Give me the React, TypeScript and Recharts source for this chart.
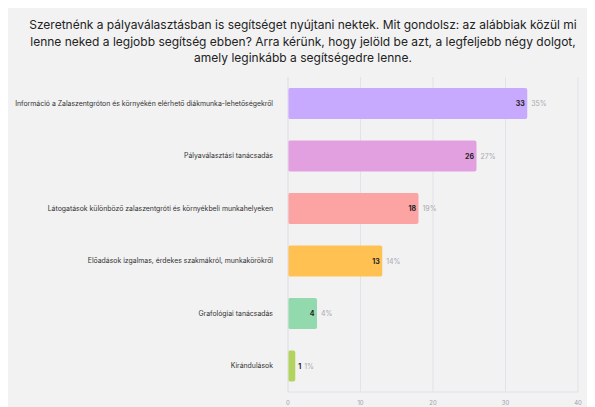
import { BarChart, Bar, XAxis, YAxis, CartesianGrid, Cell, LabelList } from 'recharts';

const categories = [
  'Információ a Zalaszentgróton és környékén elérhető diákmunka-lehetőségekről',
  'Pályaválasztási tanácsadás',
  'Látogatások különböző zalaszentgróti és környékbeli munkahelyeken',
  'Előadások izgalmas, érdekes szakmákról, munkakörökről',
  'Grafológiai tanácsadás',
  'Kirándulások',
];
const counts = [33, 26, 18, 13, 4, 1];
const percents = ['35%', '27%', '19%', '14%', '4%', '1%'];
const colors = ['#c7a9fd', '#e3a0e1', '#fca3a3', '#ffc152', '#93d9ae', '#b2d45f'];
const xTicks = [0, 10, 20, 30, 40];

const data = categories.map((name, i) => ({ name, value: counts[i], pct: percents[i] }));

const FONT = 'Inter, "Noto Sans", sans-serif';

function ValueLabel(props: any) {
  const { x, y, width, height, index } = props;
  const cy = y + height / 2;
  const end = x + width;
  const inside = width > 14;
  const valX = inside ? end - 2.5 : end + 3;
  const pctX = inside ? end + 4 : end + 9;
  return (
    <g style={{ fontFamily: FONT }}>
      <text x={valX} y={cy} textAnchor={inside ? 'end' : 'start'} dominantBaseline="central"
        fontSize={7} fontWeight={700} fill="#222">
        {counts[index]}
      </text>
      <text x={pctX} y={cy} textAnchor="start" dominantBaseline="central" fontSize={7} fill="#a8a8b0">
        {percents[index]}
      </text>
    </g>
  );
}

function CategoryTick(props: any) {
  const { x, y, payload } = props;
  return (
    <text x={x} y={y} textAnchor="end" dominantBaseline="central" fontSize={6.9} fill="#333"
      style={{ fontFamily: FONT }}>
      {payload.value}
    </text>
  );
}

export default function App() {
  return (
    <div style={{ position: 'relative', width: 590, height: 400, background: '#f2f2f2', fontFamily: FONT }}>
      <div
        style={{
          position: 'absolute',
          top: 9,
          left: 0,
          width: 590,
          textAlign: 'center',
          fontSize: 12,
          lineHeight: '16.6px',
          color: '#222',
          whiteSpace: 'nowrap',
        }}
      >
        Szeretnénk a pályaválasztásban is segítséget nyújtani nektek. Mit gondolsz: az alábbiak közül mi
        <br />
        lenne neked a legjobb segítség ebben? Arra kérünk, hogy jelöld be azt, a legfeljebb négy dolgot,
        <br />
        amely leginkább a segítségedre lenne.
      </div>
      <div style={{ position: 'absolute', top: 0, left: 0 }}>
        <BarChart
          width={590}
          height={400}
          data={data}
          layout="vertical"
          margin={{ top: 69, right: 20, bottom: 0, left: 0 }}
          barSize={31}
        >
          <CartesianGrid horizontal={false} stroke="#e2e2ea" strokeWidth={1} />
          <XAxis
            type="number"
            domain={[0, 40]}
            ticks={xTicks}
            height={16}
            axisLine={{ stroke: '#e2e2ea' }}
            tickLine={false}
            tick={{ fontSize: 6, fill: '#a0a0a8', fontFamily: FONT }}
            tickMargin={3}
          />
          <YAxis
            type="category"
            dataKey="name"
            width={280}
            axisLine={{ stroke: '#e2e2ea' }}
            tickLine={false}
            tick={CategoryTick}
            tickMargin={9}
            interval={0}
          />
          <Bar dataKey="value" radius={2} isAnimationActive={false}>
            {data.map((d, i) => (
              <Cell key={d.name} fill={colors[i]} />
            ))}
            <LabelList dataKey="value" content={ValueLabel} />
          </Bar>
        </BarChart>
      </div>
    </div>
  );
}
